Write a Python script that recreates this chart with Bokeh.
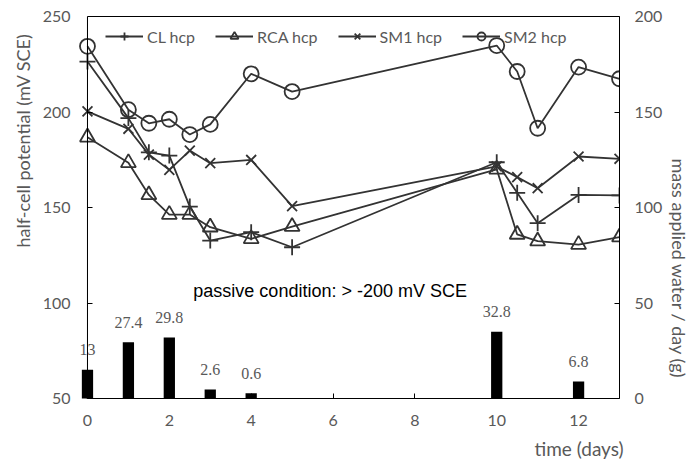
import math
from bokeh.plotting import figure
from bokeh.models import (LinearAxis, Range1d, FixedTicker, Label, Legend, Span,
                          LegendItem, ColumnDataSource, Title, LabelSet)
from bokeh.embed import file_html
from bokeh.resources import INLINE

# ---- data ----
time_days = [0, 1, 1.5, 2, 2.5, 3, 4, 5, 10, 10.5, 11, 12, 13]
cl_hcp  = [226.4, 196.8, 178.9, 177.2, 150.5, 132.7, 137.1, 129.2, 173.7, 157.7, 141.8, 156.6, 156.3]
rca_hcp = [186.8, 173.4, 156.6, 146.3, 146.3, 139.7, 133.6, 140.0, 170.0, 135.9, 132.4, 130.6, 134.5]
sm1_hcp = [200.3, 191.2, 177.7, 169.7, 179.8, 173.2, 174.9, 150.7, 171.5, 165.9, 160.1, 176.7, 175.5]
sm2_hcp = [234.4, 201.2, 194.1, 196.2, 188.2, 193.5, 220.0, 210.7, 234.8, 221.2, 191.5, 223.5, 217.4]

water_days = [0, 1, 2, 3, 4, 10, 12]
water_mass = [13, 27.4, 29.8, 2.6, 0.6, 32.8, 6.8]
water_labels = ["13", "27.4", "29.8", "2.6", "0.6", "32.8", "6.8"]

x_ticks = [0, 2, 4, 6, 8, 10, 12]
left_ticks = [50, 100, 150, 200, 250]
right_ticks = [0, 50, 100, 150, 200]

GRAY = "#595959"
LINE = "#333333"
FONT = "Lato"

X0, X1 = 0, 13
p = figure(width=694, height=468, x_range=Range1d(-12 / 41, X1), y_range=Range1d(50, 250),
           output_backend="svg", toolbar_location=None, y_axis_location=None,
           min_border_left=75, min_border_right=74, min_border_top=16, min_border_bottom=70)
p.extra_y_ranges = {"right": Range1d(0, 200)}
p.grid.visible = False
p.outline_line_color = None
p.background_fill_color = "white"
p.border_fill_color = "white"

def style_axis(ax, standoff):
    ax.axis_line_color = "black"
    ax.axis_line_width = 1
    ax.major_tick_line_color = "black"
    ax.major_tick_in = 5
    ax.major_tick_out = 0
    ax.minor_tick_line_color = None
    ax.major_label_text_color = GRAY
    ax.major_label_text_font = FONT
    ax.major_label_text_font_size = "16px"
    ax.major_label_standoff = standoff

# bottom axis limited to the data span
p.xaxis.ticker = FixedTicker(ticks=x_ticks)
p.xaxis.bounds = (X0, X1)
style_axis(p.xaxis[0], 16)

# left axis: tick marks pinned at x = 0, labels in the side panel
lticks = LinearAxis(ticker=FixedTicker(ticks=left_ticks), fixed_location=X0)
style_axis(lticks, 15)
lticks.major_label_text_color = None
p.add_layout(lticks, "left")
p.add_layout(Span(location=X0, dimension="height", line_color="black", line_width=1))

llabels = LinearAxis(ticker=FixedTicker(ticks=left_ticks))
style_axis(llabels, 5)
llabels.axis_line_color = None
llabels.major_tick_line_color = None
llabels.major_tick_in = 0
p.add_layout(llabels, "left")

# top border as a bare axis
taxis = LinearAxis(ticker=FixedTicker(ticks=[]), bounds=(X0, X1),
                   major_label_text_color=None, major_tick_line_color=None,
                   minor_tick_line_color=None, axis_line_color="black")
p.add_layout(taxis, "above")

raxis = LinearAxis(y_range_name="right", ticker=FixedTicker(ticks=right_ticks))
style_axis(raxis, 15)
p.add_layout(raxis, "right")

# ---- bars ----
bsrc = ColumnDataSource(dict(x=water_days, top=water_mass, lab=water_labels))
p.vbar(x="x", top="top", bottom=0, width=0.08, source=bsrc, y_range_name="right",
       fill_color="black", line_color="black", line_width=8, line_join="miter")
p.add_layout(LabelSet(x="x", y="top", text="lab", source=bsrc, y_range_name="right",
                      text_align="center", text_baseline="middle", y_offset=24,
                      text_color=GRAY, text_font=FONT, text_font_size="16px"))

# ---- series ----
series = [
    ("CL hcp", cl_hcp, "cross", 16),
    ("RCA hcp", rca_hcp, "triangle", 15),
    ("SM1 hcp", sm1_hcp, "x", 14),
    ("SM2 hcp", sm2_hcp, "circle", 15),
]
items = []
for name, ys, marker, size in series:
    lr = p.line(time_days, ys, line_color=LINE, line_width=1.8)
    sr = p.scatter(time_days, ys, marker=marker, size=size, line_color=LINE,
                   line_width=1.8, fill_color=None)
    items.append(LegendItem(label=name, renderers=[lr, sr]))

legend = Legend(items=items, orientation="horizontal", location=(30, 352),
                glyph_width=38, glyph_height=20, label_standoff=4, spacing=20,
                padding=2, margin=0, border_line_color=None,
                background_fill_alpha=0,
                label_text_color=GRAY, label_text_font=FONT, label_text_font_size="16px")
p.add_layout(legend, "center")

# ---- texts ----
p.add_layout(Label(x=5.93, y=106.5, text="passive condition: > -200 mV SCE",
                   text_align="center", text_baseline="middle",
                   text_font="Liberation Sans", text_font_size="18px", text_color="black"))

def side_title(text, loc, offset, standoff, size):
    t = Title(text=text, align="left", offset=offset, standoff=standoff,
              text_font=FONT, text_font_size=size, text_color=GRAY,
              text_font_style="normal")
    p.add_layout(t, loc)

side_title("half-cell potential (mV SCE)", "left", 151, 12, "18px")
side_title("mass applied water / day (g)", "right", 142, 5, "18px")
side_title("time (days)", "below", 459, 13, "19px")

open("out.html", "w").write(file_html(p, INLINE))
